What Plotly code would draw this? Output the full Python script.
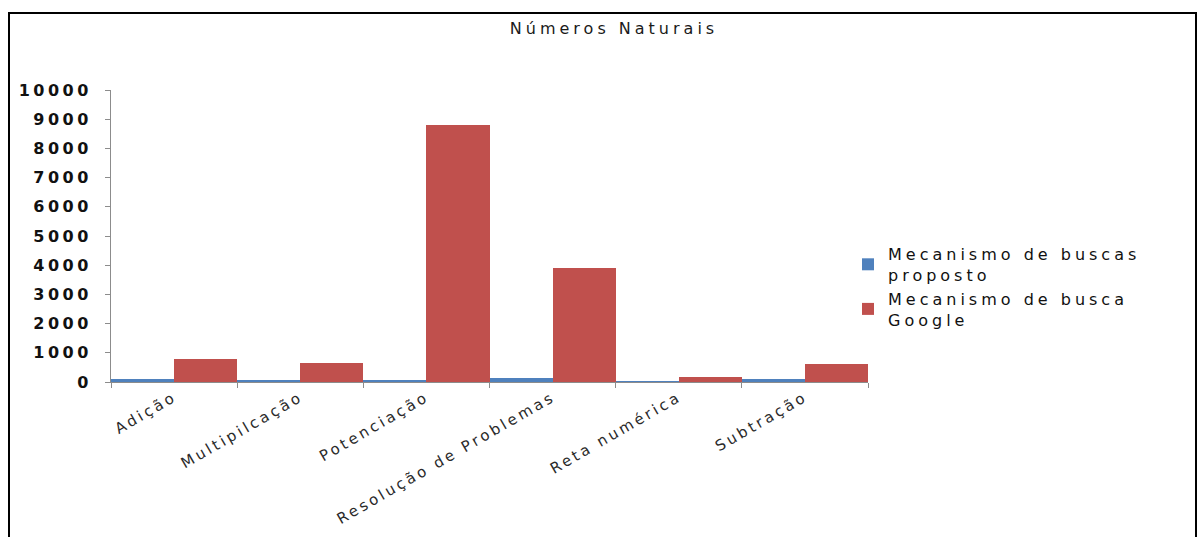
import plotly.graph_objects as go

categories = ["Adição", "Multipilcação", "Potenciação", "Resolução de Problemas",
              "Reta numérica", "Subtração"]
proposto = [100, 80, 40, 150, 20, 100]
google = [800, 650, 8800, 3900, 170, 620]
y_ticks = [0, 1000, 2000, 3000, 4000, 5000, 6000, 7000, 8000, 9000, 10000]

W, H = 1199, 537
L, R, T, B = 111, 331, 90, 155
pw = W - L - R
ph = H - T - B

def px_x(x):
    return (x - L) / pw

def px_y(y):
    return (H - B - y) / ph

font = "DejaVu Sans"

fig = go.Figure()
fig.add_trace(go.Bar(x=categories, y=proposto, name="Mecanismo de buscas<br>proposto",
                     marker=dict(color="#4F81BD", line=dict(width=0))))
fig.add_trace(go.Bar(x=categories, y=google, name="Mecanismo de busca<br>Google",
                     marker=dict(color="#C0504D", line=dict(width=0))))

fig.update_layout(
    width=W, height=H,
    margin=dict(l=L, r=R, t=T, b=B),
    paper_bgcolor="white", plot_bgcolor="white",
    barmode="group", bargap=0, bargroupgap=0,
    title=dict(text="Números Naturais", x=614 / W, xanchor="center",
               y=1 - 28 / H, yanchor="middle",
               font=dict(family=font, size=16, color="#1a1a1a")),
    font=dict(family=font, color="#111111"),
    showlegend=True,
    legend=dict(x=px_x(848), y=px_y(237), xanchor="left", yanchor="top",
                font=dict(family=font, size=16, color="#111111"),
                bgcolor="rgba(0,0,0,0)", tracegroupgap=1, itemwidth=30),
    xaxis=dict(showline=True, linecolor="#8c8c8c", linewidth=1,
               ticks="outside", tickson="boundaries", ticklen=5, tickcolor="#8c8c8c",
               tickangle=-30, tickfont=dict(family=font, size=15, color="#2a2a2a"),
               showgrid=False, zeroline=False),
    yaxis=dict(range=[0, 10000], tickvals=y_ticks, ticktext=[str(v) for v in y_ticks],
               showline=True, linecolor="#8c8c8c", linewidth=1,
               ticks="outside", ticklen=5, tickcolor="#8c8c8c",
               ticklabelstandoff=10,
               tickfont=dict(family=font, size=16, color="#111111", weight="bold"),
               showgrid=False, zeroline=False),
    shapes=[dict(type="rect", xref="paper", yref="paper",
                 x0=px_x(9), x1=px_x(1196), y0=px_y(540), y1=px_y(13),
                 line=dict(color="black", width=2), fillcolor="rgba(0,0,0,0)",
                 layer="above")],
)

# widen the lettering to give the extended typeface look
spacing_js = """
var gd = document.getElementById('{plot_id}');
function spread(sel, px) {
  gd.querySelectorAll(sel).forEach(function (t) { t.style.letterSpacing = px; });
}
spread('.ytick text', '3.5px');
spread('.xtick text', '3px');
spread('.legendtext', '4px');
spread('.gtitle', '4px');
gd.querySelectorAll('.legend .scrollbox, .legend').forEach(function (g) {
  g.removeAttribute('clip-path');
});
"""

fig.write_html("out.html", post_script=spacing_js)
